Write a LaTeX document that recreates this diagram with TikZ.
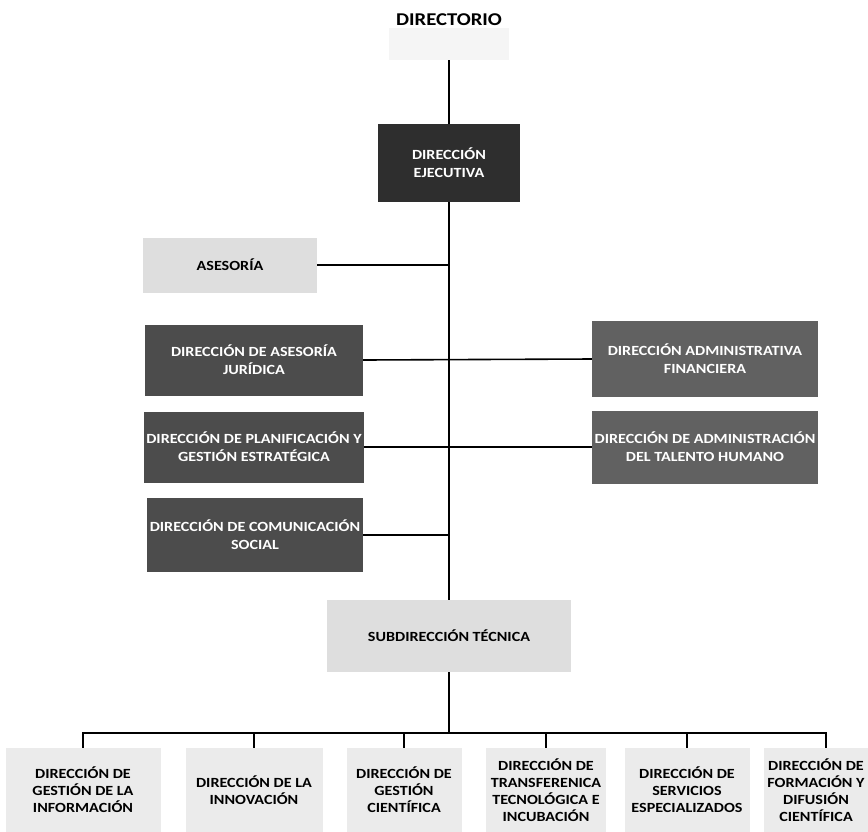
\documentclass[tikz,border=0pt]{standalone}
\usepackage{fontspec}
\newfontfamily\orgfont{Carlito}[FakeStretch=1.15]
\begin{document}
\begin{tikzpicture}[x=1pt,y=-1pt,
  base/.style={rectangle, align=center, inner sep=2pt, font=\orgfont\bfseries\fontsize{14}{18}\selectfont},
  darkbox/.style={base, fill=black!70, text=white},
  topbox/.style={base, fill=black!82, text=white},
  lightbox/.style={base, fill=black!13, text=black},
  paleboxbottom/.style={base, fill=black!8, text=black, font=\orgfont\bfseries\fontsize{14}{17}\selectfont},
  conn/.style={line width=1.6pt, black}]
\useasboundingbox (0,0) rectangle (868,831);

% top
\node[rectangle, fill=black!4, minimum width=120pt, minimum height=32pt, inner sep=0pt] (dirbg) at (449,44) {};
\node[base, font=\orgfont\bfseries\fontsize{18}{20}\selectfont, inner sep=0pt] (dir) at (449,20) {DIRECTORIO};
\node[topbox, minimum width=142pt, minimum height=78pt] (ejec) at (449,163) {DIRECCIÓN\\EJECUTIVA};

% staff
\node[lightbox, minimum width=174pt, minimum height=55pt] (ases) at (230,265) {ASESORÍA};
\node[darkbox, minimum width=218pt, minimum height=71pt] (jur) at (254,360) {DIRECCIÓN DE ASESORÍA\\JURÍDICA};
\node[darkbox, minimum width=218pt, minimum height=71pt] (plan) at (254,447) {DIRECCIÓN DE PLANIFICACIÓN Y\\GESTIÓN ESTRATÉGICA};
\node[darkbox, minimum width=216pt, minimum height=74pt] (com) at (255,535) {DIRECCIÓN DE COMUNICACIÓN\\SOCIAL};
\node[darkbox, fill=black!62, minimum width=226pt, minimum height=76pt] (adm) at (705,359) {DIRECCIÓN ADMINISTRATIVA\\FINANCIERA};
\node[darkbox, fill=black!62, minimum width=226pt, minimum height=73pt] (tal) at (705,447) {DIRECCIÓN DE ADMINISTRACIÓN\\DEL TALENTO HUMANO};

\node[lightbox, minimum width=244pt, minimum height=72pt] (sub) at (449,636) {SUBDIRECCIÓN TÉCNICA};

% bottom row
\node[paleboxbottom, minimum width=155pt, minimum height=84pt] (b1) at (83,790) {DIRECCIÓN DE\\GESTIÓN DE LA\\INFORMACIÓN};
\node[paleboxbottom, minimum width=137pt, minimum height=84pt] (b2) at (254,790) {DIRECCIÓN DE LA\\INNOVACIÓN};
\node[paleboxbottom, minimum width=115pt, minimum height=84pt] (b3) at (404,790) {DIRECCIÓN DE\\GESTIÓN\\CIENTÍFICA};
\node[paleboxbottom, minimum width=120pt, minimum height=84pt] (b4) at (546,790) {DIRECCIÓN DE\\TRANSFERENICA\\TECNOLÓGICA E\\INCUBACIÓN};
\node[paleboxbottom, minimum width=125pt, minimum height=84pt] (b5) at (687,790) {DIRECCIÓN DE\\SERVICIOS\\ESPECIALIZADOS};
\node[paleboxbottom, minimum width=104pt, minimum height=84pt] (b6) at (816,790) {DIRECCIÓN DE\\FORMACIÓN Y\\DIFUSIÓN\\CIENTÍFICA};
\coordinate (b6top) at ([xshift=10pt]b6.north);

% connectors
\coordinate (bus) at (449,733);
\draw[conn] (dirbg.south) -- (ejec.north);
\draw[conn] (ejec.south) -- (sub.north);
\draw[conn] (ases.east) -- (ases.east -| ejec.south);
\draw[conn] (jur.east) -- (adm.west);
\draw[conn] (plan.east) -- (tal.west);
\draw[conn] (com.east) -- (com.east -| ejec.south);
\draw[conn] (sub.south) -- (bus);
\draw[conn] (b1.north) -- (b1.north |- bus) -- (b6top |- bus) -- (b6top);
\draw[conn] (b2.north) -- (b2.north |- bus);
\draw[conn] (b3.north) -- (b3.north |- bus);
\draw[conn] (b4.north) -- (b4.north |- bus);
\draw[conn] (b5.north) -- (b5.north |- bus);
\end{tikzpicture}
\end{document}
